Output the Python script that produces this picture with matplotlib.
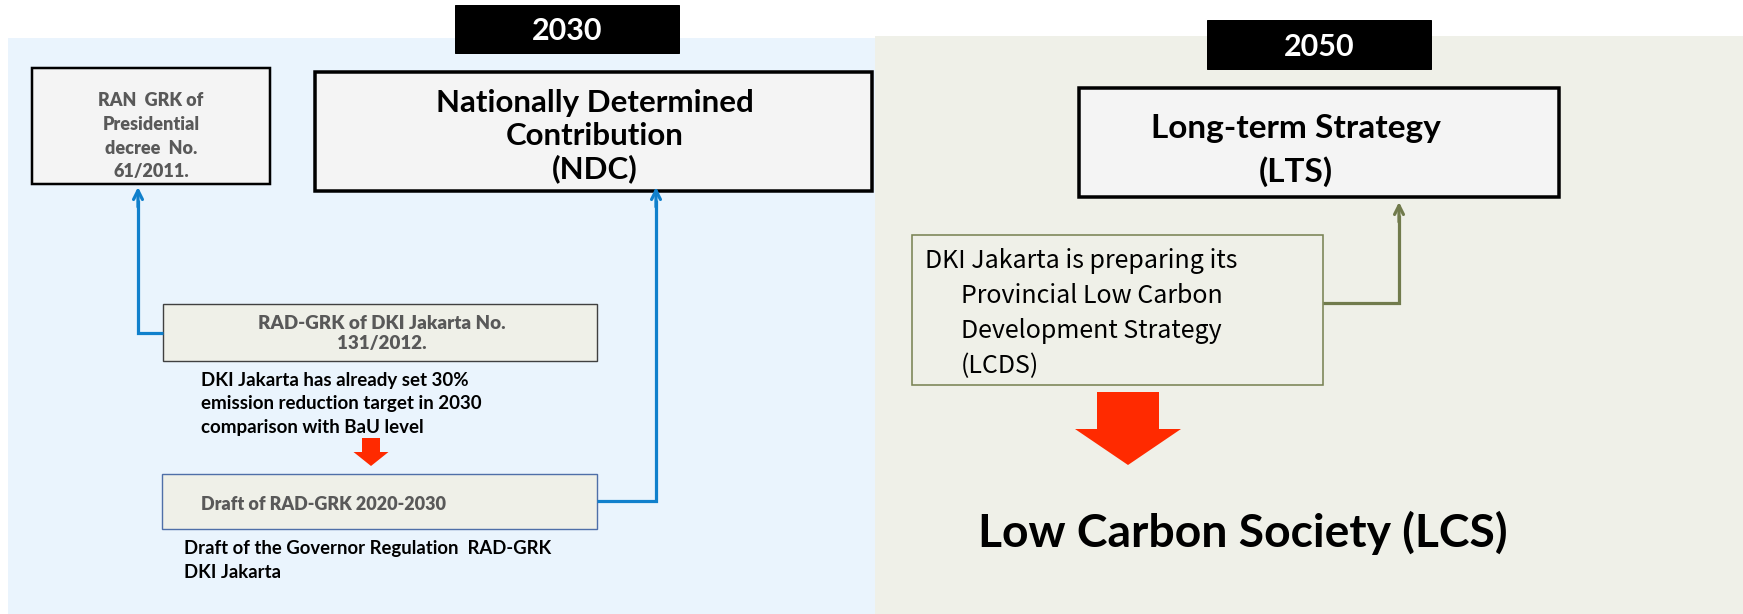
import matplotlib.pyplot as plt
from matplotlib.patches import Rectangle, FancyArrow

plt.rcParams['font.family'] = ['Lato', 'DejaVu Sans']

# ---- texts ----
year_labels = ['2030', '2050']
ran_lines = ['RAN  GRK of', 'Presidential', 'decree  No.', '61/2011.']
ndc_lines = ['Nationally Determined', 'Contribution', '(NDC)']
rad_lines = ['RAD-GRK of DKI Jakarta No.', '131/2012.']
target_lines = ['DKI Jakarta has already set 30%',
                'emission reduction target in 2030',
                'comparison with BaU level']
draft_label = 'Draft of RAD-GRK 2020-2030'
governor_lines = ['Draft of the Governor Regulation  RAD-GRK', 'DKI Jakarta']
lts_lines = ['Long-term Strategy', '(LTS)']
lcds_lines = ['DKI Jakarta is preparing its', 'Provincial Low Carbon',
              'Development Strategy', '(LCDS)']
lcs_label = 'Low Carbon Society (LCS)'

# ---- colours ----
GRAY_TXT = '#595959'
BLUE = '#1080CC'
OLIVE = '#717B4C'
RED = '#FF2A00'
BOX_GRAY = '#F4F4F4'
BEIGE = '#EFF0E8'
PANEL_BLUE = '#EAF4FD'

W, H = 1743, 614
fig = plt.figure(figsize=(W / 100, H / 100), dpi=100)
ax = fig.add_axes([0, 0, 1, 1])
ax.set_xlim(0, W)
ax.set_ylim(H, 0)
ax.axis('off')


def px(v):
    # pixel width -> points
    return v * 0.72


def box(x0, y0, x1, y1, fc, ec, lw):
    ax.add_patch(Rectangle((x0, y0), x1 - x0, y1 - y0, facecolor=fc,
                           edgecolor=ec, linewidth=px(lw), zorder=3))


def lines(txts, x, y0, step, size, ha='left', **kw):
    for i, t in enumerate(txts):
        ax.text(x, y0 + i * step, t, ha=ha, va='baseline', fontsize=size,
                zorder=5, **kw)


def connector(pts, tip, color):
    xs = [p[0] for p in pts]
    ys = [p[1] for p in pts]
    ax.plot(xs, ys, color=color, lw=px(3.2), solid_capstyle='butt',
            solid_joinstyle='miter', zorder=4)
    ax.annotate('', xy=tip, xytext=(tip[0], tip[1] + 20),
                arrowprops=dict(arrowstyle='->', color=color, lw=px(3.2),
                                mutation_scale=16, shrinkA=0, shrinkB=0),
                zorder=4)


# background panels
ax.add_patch(Rectangle((8, 38), 875 - 8, H - 38, facecolor=PANEL_BLUE,
                       edgecolor='none', zorder=1))
ax.add_patch(Rectangle((875, 36), W - 875, H - 36, facecolor=BEIGE,
                       edgecolor='none', zorder=1))

# year tags
box(455, 5, 679, 53, 'black', 'black', 1)
box(1207, 20, 1431, 69, 'black', 'black', 1)
ax.text(567, 40, year_labels[0], ha='center', va='baseline', fontsize=22,
        fontweight='bold', color='white', zorder=5)
ax.text(1319, 55.5, year_labels[1], ha='center', va='baseline', fontsize=22,
        fontweight='bold', color='white', zorder=5)

# ---- 2030 side ----
box(32, 68, 270, 184, BOX_GRAY, 'black', 2.5)
lines(ran_lines, 151, 105.5, 24, 13, ha='center', fontweight='heavy',
      color=GRAY_TXT)

box(315, 72, 872, 191, BOX_GRAY, 'black', 3.5)
lines(ndc_lines, 595, 112, 33, 22.5, ha='center', fontweight='bold',
      color='black')

box(163, 304, 597, 361, BEIGE, '#404040', 1.4)
lines(rad_lines, 382, 329, 20, 13.5, ha='center', fontweight='heavy',
      color=GRAY_TXT)

lines(target_lines, 201, 385.7, 23.7, 13.5, fontweight='bold',
      color='black')

ax.add_patch(FancyArrow(371, 438, 0, 28, width=18, head_width=35,
                        head_length=14, length_includes_head=True,
                        color=RED, lw=0, zorder=4))

box(162, 474, 597, 529, BEIGE, '#4F6FA8', 1.4)
ax.text(201, 510, draft_label, ha='left', va='baseline', fontsize=13,
        fontweight='heavy', color=GRAY_TXT, zorder=5)

lines(governor_lines, 184, 554.3, 23.4, 13.3, fontweight='bold',
      color='black')

connector([(163, 333), (138, 333), (138, 200)], (138, 187), BLUE)
connector([(597, 501), (656, 501), (656, 200)], (656, 187), BLUE)

# ---- 2050 side ----
box(1079, 88, 1559, 197, BOX_GRAY, 'black', 3.5)
lines(lts_lines, 1296, 137.7, 44, 24, ha='center', fontweight='bold',
      color='black')

box(912, 235, 1323, 385, BEIGE, '#7A8455', 1.6)
ax.text(925, 268.3, lcds_lines[0], ha='left', va='baseline', fontsize=18,
        family=['Noto Sans CJK JP', 'DejaVu Sans'], zorder=5)
lines(lcds_lines[1:], 961, 302.7, 35.2, 18,
      family=['Noto Sans CJK JP', 'DejaVu Sans'], color='black')

connector([(1323, 303), (1399, 303), (1399, 215)], (1399, 202), OLIVE)

ax.add_patch(FancyArrow(1128, 392, 0, 73, width=62, head_width=106,
                        head_length=36, length_includes_head=True,
                        color=RED, lw=0, zorder=4))

ax.text(978, 547, lcs_label, ha='left', va='baseline', fontsize=33.3,
        fontweight='bold', color='black', zorder=5)

fig.savefig('out.png', dpi=100)
